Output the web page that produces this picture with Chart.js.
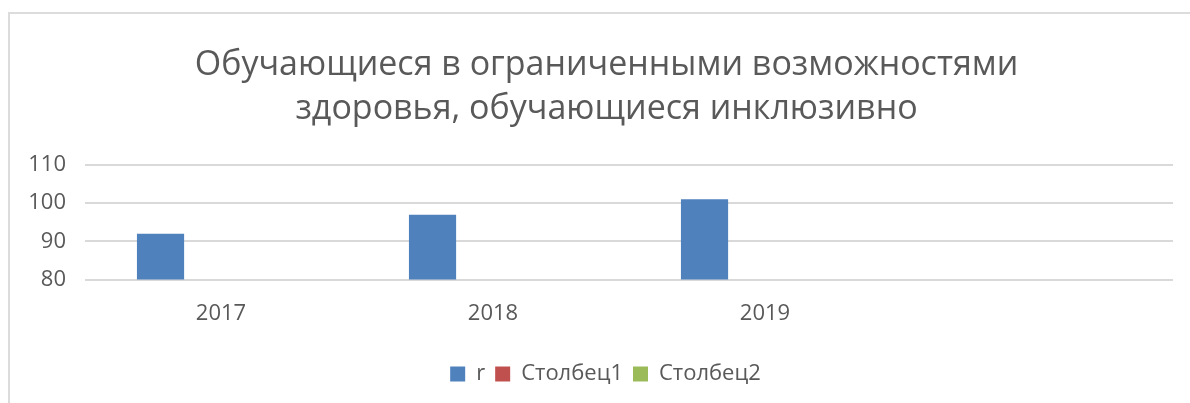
<!DOCTYPE html>
<html>
<head>
<meta charset="utf-8">
<script src="https://cdn.jsdelivr.net/npm/chart.js@4/dist/chart.umd.min.js"></script>
<style>
    html, body { margin: 0; padding: 0; background: #fff; overflow: hidden; }
    #frame {
        position: absolute; left: 8px; top: 12px;
        width: 1200px; height: 410px;
        border: 2px solid #dcdcdc;
    }
    #wrap { position: absolute; left: 0; top: 0; width: 1190px; height: 403px; }
</style>
</head>
<body>
<div id="frame"></div>
<div id="wrap"><canvas id="chart" width="1190" height="403"></canvas></div>
<script>
// данные
const categories = ['2017', '2018', '2019', ''];
const seriesNames = ['r', 'Столбец1', 'Столбец2'];
const valuesR = [92, 97, 101, null];
const valuesCol1 = [null, null, null, null];
const valuesCol2 = [null, null, null, null];
const yTicks = [80, 90, 100, 110];

const colors = ['#4F81BD', '#C0504D', '#9BBB59'];
const textColor = '#595959';
const fontName = '"Open Sans", sans-serif';

// заголовок и легенда в оригинале чуть правее центра
const shiftBoxes = {
    id: 'shiftBoxes',
    afterLayout(chart) {
        const t = chart.titleBlock;
        if (t) { t.left += 8; t.right += 8; }
        const l = chart.legend;
        if (l) { l.left += 7; l.right += 7; }
    },
};

const ctx = document.getElementById('chart').getContext('2d');

new Chart(ctx, {
    type: 'bar',
    data: {
        labels: categories,
        datasets: [valuesR, valuesCol1, valuesCol2].map((vals, i) => ({
            label: seriesNames[i],
            data: vals,
            backgroundColor: colors[i],
            categoryPercentage: 0.667,
            barPercentage: 0.78,
        })),
    },
    plugins: [shiftBoxes],
    options: {
        responsive: false,
        animation: false,
        devicePixelRatio: 1,
        layout: {
            padding: { left: 24, right: 17, top: 43, bottom: 8 },
        },
        plugins: {
            title: {
                display: true,
                text: ['Обучающиеся в ограниченными возможностями', 'здоровья, обучающиеся инклюзивно'],
                color: textColor,
                font: { family: fontName, size: 34, weight: 'normal', lineHeight: 1.294 },
                padding: { top: 0, bottom: 34 },
            },
            legend: {
                position: 'bottom',
                labels: {
                    color: textColor,
                    font: { family: fontName, size: 22 },
                    boxWidth: 15,
                    boxHeight: 15,
                    padding: 10,
                },
            },
            tooltip: { enabled: false },
        },
        scales: {
            x: {
                grid: { display: false },
                border: { display: false },
                afterFit: (axis) => { axis.height += 13; },
                ticks: {
                    color: textColor,
                    font: { family: fontName, size: 22 },
                    padding: 13,
                },
            },
            y: {
                min: yTicks[0],
                max: yTicks[yTicks.length - 1],
                afterBuildTicks: (axis) => { axis.ticks = yTicks.map(v => ({ value: v })); },
                afterFit: (axis) => { axis.width = 61; },
                grid: { color: '#d9d9d9', lineWidth: 2, drawTicks: false },
                border: { display: false },
                ticks: {
                    color: textColor,
                    font: { family: fontName, size: 22 },
                    padding: 19,
                },
            },
        },
    },
});
</script>
</body>
</html>
